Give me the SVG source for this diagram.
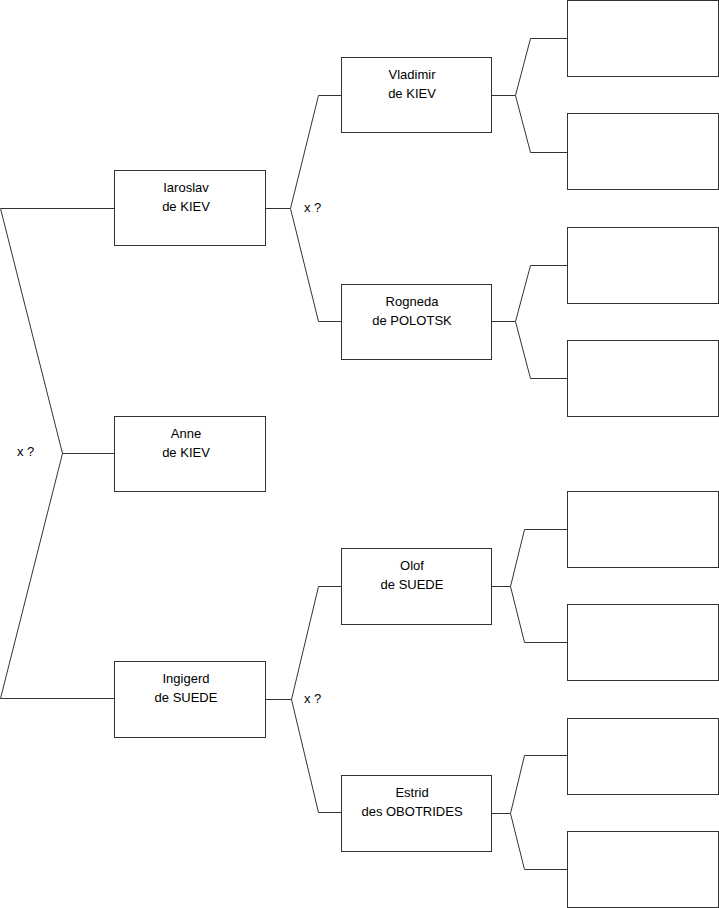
<svg xmlns="http://www.w3.org/2000/svg" width="719" height="908" viewBox="0 0 719 908">
<style>
.box{fill:#fff;stroke:#333;stroke-width:1}
.ln{fill:none;stroke:#333;stroke-width:1}
text{font-family:"Liberation Sans",Arial,sans-serif;font-size:13px;fill:#000}
.c{text-anchor:middle}
</style>
<rect width="719" height="908" fill="#fff"/>
<g id="connectors">
<path class="ln" d="M0.5,208.5 H114 M0.5,208.5 L62.5,453.5 L0.5,698.5 H114 M62.5,453.5 H114"/>
<path class="ln" d="M265,208.5 H290.5 L318.5,95.5 H341 M290.5,208.5 L318.5,321.5 H341"/>
<path class="ln" d="M265,699.5 H291.5 L318.5,586.5 H341 M291.5,699.5 L318.5,812.5 H341"/>
<path class="ln" d="M492,95.5 H515.5 L530.5,38.5 H567 M515.5,95.5 L530.5,152.5 H567"/>
<path class="ln" d="M492,321.5 H515.5 L530.5,265.5 H567 M515.5,321.5 L530.5,378.5 H567"/>
<path class="ln" d="M492,586.5 H510.5 L524.5,529.5 H567 M510.5,586.5 L524.5,642.5 H567"/>
<path class="ln" d="M492,813.5 H510.5 L524.5,755.5 H567 M510.5,813.5 L524.5,869.5 H567"/>
<text x="17" y="456">x ?</text>
<text x="304" y="212">x ?</text>
<text x="304" y="703">x ?</text>
</g>
<g id="anne"><rect class="box" x="114.5" y="416.5" width="151" height="75"/><text class="c" x="186" y="438">Anne</text><text class="c" x="186" y="457">de KIEV</text></g>
<g id="iaroslav"><rect class="box" x="114.5" y="170.5" width="151" height="75"/><text class="c" x="186" y="192">Iaroslav</text><text class="c" x="186" y="211">de KIEV</text></g>
<g id="ingigerd"><rect class="box" x="114.5" y="661.5" width="151" height="76"/><text class="c" x="186" y="683">Ingigerd</text><text class="c" x="186" y="702">de SUEDE</text></g>
<g id="vladimir"><rect class="box" x="341.5" y="57.5" width="150" height="75"/><text class="c" x="412" y="79">Vladimir</text><text class="c" x="412" y="98">de KIEV</text></g>
<g id="rogneda"><rect class="box" x="341.5" y="284.5" width="150" height="75"/><text class="c" x="412" y="306">Rogneda</text><text class="c" x="412" y="325">de POLOTSK</text></g>
<g id="olof"><rect class="box" x="341.5" y="548.5" width="150" height="76"/><text class="c" x="412" y="570">Olof</text><text class="c" x="412" y="589">de SUEDE</text></g>
<g id="estrid"><rect class="box" x="341.5" y="775.5" width="150" height="76"/><text class="c" x="412" y="797">Estrid</text><text class="c" x="412" y="816">des OBOTRIDES</text></g>
<g id="gg1"><rect class="box" x="567.5" y="0.5" width="151" height="76"/></g>
<g id="gg2"><rect class="box" x="567.5" y="113.5" width="151" height="76"/></g>
<g id="gg3"><rect class="box" x="567.5" y="227.5" width="151" height="76"/></g>
<g id="gg4"><rect class="box" x="567.5" y="340.5" width="151" height="76"/></g>
<g id="gg5"><rect class="box" x="567.5" y="491.5" width="151" height="76"/></g>
<g id="gg6"><rect class="box" x="567.5" y="604.5" width="151" height="76"/></g>
<g id="gg7"><rect class="box" x="567.5" y="718.5" width="151" height="76"/></g>
<g id="gg8"><rect class="box" x="567.5" y="831.5" width="151" height="76"/></g>
</svg>
